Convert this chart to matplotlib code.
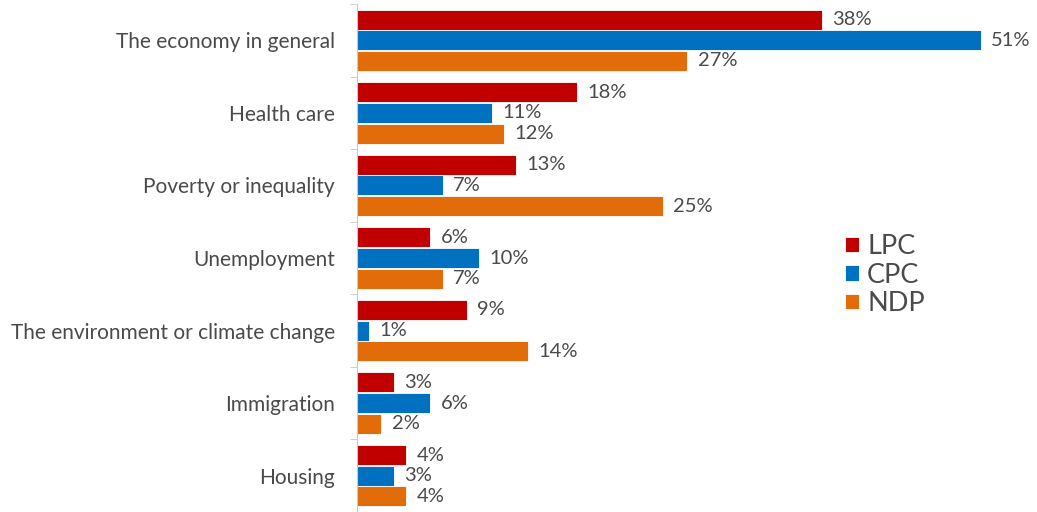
import matplotlib.pyplot as plt
import numpy as np

categories = ["The economy in general", "Health care", "Poverty or inequality",
              "Unemployment", "The environment or climate change", "Immigration", "Housing"]
lpc = [38, 18, 13, 6, 9, 3, 4]
cpc = [51, 11, 7, 10, 1, 6, 3]
ndp = [27, 12, 25, 7, 14, 2, 4]
series = [("LPC", lpc, "#C00000"), ("CPC", cpc, "#0070C0"), ("NDP", ndp, "#E36C0A")]

plt.rcParams['font.family'] = ['Lato', 'DejaVu Sans']
text_col = "#4A4A4A"

fig = plt.figure(figsize=(10.37, 5.12), dpi=100)
ax = fig.add_axes([357 / 1037, 0.0, 680 / 1037, 508 / 512])

y = np.arange(len(categories))
h = 0.275
for i, (name, vals, col) in enumerate(series):
    pos = y + (i - 1) * 0.285
    ax.barh(pos, vals, height=h, color=col, edgecolor="white", linewidth=0.6, label=name)
    for p, v in zip(pos, vals):
        ax.text(v + 0.85, p, f"{v}%", va="center", ha="left", fontsize=14.5, color=text_col)

ax.set_xlim(0, 55.6)
ax.set_ylim(len(categories) - 0.5, -0.5)
ax.set_yticks(y)
ax.set_yticklabels(categories, fontsize=15, color=text_col)
ax.set_yticks(np.arange(len(categories) + 1) - 0.5, minor=True)
ax.tick_params(axis="y", which="major", length=0, pad=16)
ax.tick_params(axis="y", which="minor", length=5, color="#C8C8C8")
ax.set_xticks([])
for s in ["top", "right", "bottom"]:
    ax.spines[s].set_visible(False)
ax.spines["left"].set_color("#C8C8C8")

leg = ax.legend(loc="upper left", bbox_to_anchor=(464 / 680, 302 / 508), frameon=False,
                fontsize=19.5, handlelength=0.5, handleheight=0.5, handletextpad=0.3,
                labelspacing=0.12, labelcolor=text_col)

fig.savefig("out.png", dpi=100)
